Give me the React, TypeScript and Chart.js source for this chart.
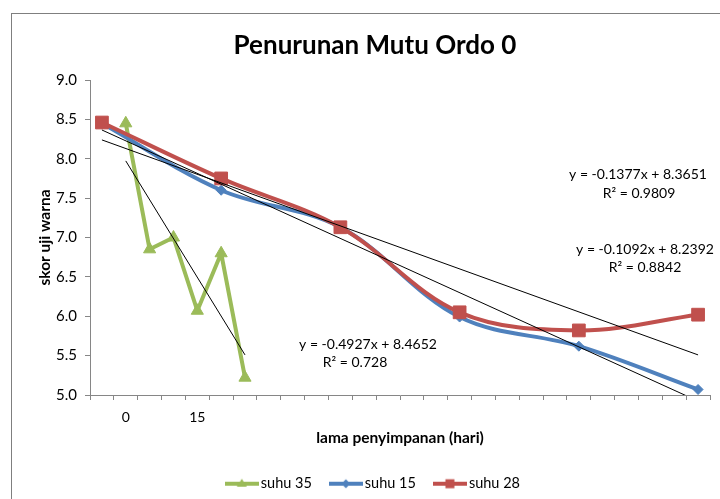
import React, { useEffect, useRef } from 'react';
import { Chart, registerables } from 'chart.js';

Chart.register(...registerables);

// Category axis: 26 slots, only two carry a label
const categories = [
  '', '0', '', '', '15', '', '', '', '', '', '', '', '', '',
  '', '', '', '', '', '', '', '', '', '', '', '',
];

// suhu 35 sits on slots 1..6, suhu 15 / suhu 28 every fifth slot
const suhu35Slots = [1, 2, 3, 4, 5, 6];
const suhu35Values = [8.45, 6.85, 7.0, 6.07, 6.8, 5.22];

const suhu15Slots = [0, 5, 10, 15, 20, 25];
const suhu15Values = [8.45, 7.6, 7.13, 5.99, 5.62, 5.07];

const suhu28Slots = [0, 5, 10, 15, 20, 25];
const suhu28Values = [8.46, 7.75, 7.13, 6.05, 5.82, 6.02];

// Linear trendlines (y = slope * x + intercept), x measured in category slots
const trendSlopes = [-0.4927, -0.1377, -0.1092];
const trendIntercepts = [8.4652, 8.3651, 8.2392];
const trendR2 = ['0.728', '0.9809', '0.8842'];

const Y_MIN = 5.0;
const Y_MAX = 9.0;
const Y_STEP = 0.5;

const FONT = 'Lato, "Open Sans", sans-serif';
const GREEN = '#9BBB59';
const BLUE = '#4F81BD';
const RED = '#C0504D';
const AXIS = '#868686';

function toSlots(slots: number[], values: number[]): (number | null)[] {
  const out: (number | null)[] = categories.map(() => null);
  slots.forEach((s, i) => {
    out[s] = values[i];
  });
  return out;
}

function trendSeries(k: number, slots: number[]): (number | null)[] {
  const out: (number | null)[] = categories.map(() => null);
  const a = slots[0];
  const b = slots[slots.length - 1];
  out[a] = trendSlopes[k] * a + trendIntercepts[k];
  out[b] = trendSlopes[k] * b + trendIntercepts[k];
  return out;
}

function equationText(k: number): string {
  const slope = trendSlopes[k].toFixed(4);
  const icpt = trendIntercepts[k].toFixed(4);
  return `y = ${slope}x + ${icpt}`;
}

// Legend symbol: short thick line with the series marker in the middle
function legendSymbol(color: string, marker: 'triangle' | 'diamond' | 'square'): HTMLCanvasElement {
  const c = document.createElement('canvas');
  c.width = 34;
  c.height = 14;
  const ctx = c.getContext('2d')!;
  ctx.strokeStyle = color;
  ctx.fillStyle = color;
  ctx.lineWidth = 4;
  ctx.beginPath();
  ctx.moveTo(0, 7);
  ctx.lineTo(34, 7);
  ctx.stroke();
  ctx.beginPath();
  if (marker === 'triangle') {
    ctx.moveTo(17, 2);
    ctx.lineTo(22, 10);
    ctx.lineTo(12, 10);
  } else if (marker === 'diamond') {
    ctx.moveTo(17, 2.5);
    ctx.lineTo(21.5, 7);
    ctx.lineTo(17, 11.5);
    ctx.lineTo(12.5, 7);
  } else {
    ctx.rect(12.5, 2.5, 9, 9);
  }
  ctx.closePath();
  ctx.fill();
  return c;
}

const chartFrame = {
  id: 'chartFrame',
  beforeDraw(chart: Chart) {
    const { ctx, width, height } = chart;
    ctx.save();
    ctx.fillStyle = '#ffffff';
    ctx.fillRect(0, 0, width, height);
    ctx.strokeStyle = '#7f7f7f';
    ctx.lineWidth = 1;
    ctx.strokeRect(11.5, 13.5, width + 10, height + 10);
    ctx.restore();
  },
};

// Trendline equations and R² values
const trendLabels = {
  id: 'trendLabels',
  afterDatasetsDraw(chart: Chart) {
    const { ctx } = chart;
    const spots = [
      { eq: [368, 344], r2: [355, 362] },
      { eq: [638, 174], r2: [639, 193] },
      { eq: [645, 249], r2: [645, 267] },
    ];
    ctx.save();
    ctx.fillStyle = '#000000';
    ctx.font = `14px ${FONT}`;
    ctx.textAlign = 'center';
    ctx.textBaseline = 'middle';
    spots.forEach((s, k) => {
      ctx.fillText(equationText(k), s.eq[0], s.eq[1]);
      ctx.fillText(`R² = ${trendR2[k]}`, s.r2[0], s.r2[1]);
    });
    ctx.restore();
  },
};

export default function App() {
  const canvasRef = useRef<HTMLCanvasElement | null>(null);

  useEffect(() => {
    const canvas = canvasRef.current;
    if (!canvas) return;

    const symbols = [
      legendSymbol(GREEN, 'triangle'),
      legendSymbol(BLUE, 'diamond'),
      legendSymbol(RED, 'square'),
    ];

    const trendBase = {
      borderColor: '#000000',
      borderWidth: 1,
      pointRadius: 0,
      spanGaps: true,
      tension: 0,
      clip: 0,
      order: 0,
    };

    const chart = new Chart(canvas, {
      type: 'line',
      data: {
        labels: categories,
        datasets: [
          {
            label: 'suhu 35',
            data: toSlots(suhu35Slots, suhu35Values),
            borderColor: GREEN,
            backgroundColor: GREEN,
            borderWidth: 4,
            pointStyle: 'triangle',
            pointRadius: 7,
            pointBorderWidth: 1,
            pointBorderColor: GREEN,
            pointBackgroundColor: GREEN,
            spanGaps: true,
            tension: 0,
            borderJoinStyle: 'round',
            order: 3,
          },
          {
            label: 'suhu 15',
            data: toSlots(suhu15Slots, suhu15Values),
            borderColor: BLUE,
            backgroundColor: BLUE,
            borderWidth: 4,
            pointStyle: 'rectRot',
            pointRadius: 5,
            pointBorderWidth: 1,
            pointBorderColor: BLUE,
            pointBackgroundColor: BLUE,
            spanGaps: true,
            tension: 0.35,
            borderJoinStyle: 'round',
            order: 2,
          },
          {
            label: 'suhu 28',
            data: toSlots(suhu28Slots, suhu28Values),
            borderColor: RED,
            backgroundColor: RED,
            borderWidth: 4,
            pointStyle: 'rect',
            pointRadius: 9,
            pointBorderWidth: 1,
            pointBorderColor: RED,
            pointBackgroundColor: RED,
            spanGaps: true,
            tension: 0.35,
            borderJoinStyle: 'round',
            order: 1,
          },
          { ...trendBase, label: 'trend suhu 35', data: trendSeries(0, suhu35Slots) },
          { ...trendBase, label: 'trend suhu 15', data: trendSeries(1, suhu15Slots) },
          { ...trendBase, label: 'trend suhu 28', data: trendSeries(2, suhu28Slots) },
        ],
      },
      options: {
        responsive: false,
        animation: false,
        events: [],
        devicePixelRatio: 1,
        layout: { padding: { left: 32, right: 2, top: 0, bottom: -2 } },
        plugins: {
          title: {
            display: true,
            text: 'Penurunan Mutu Ordo 0',
            color: '#000000',
            font: { family: FONT, size: 26, weight: 'bold' },
            padding: { top: 30.4, bottom: 18.4 },
          },
          legend: {
            position: 'bottom',
            labels: {
              usePointStyle: true,
              pointStyleWidth: 23.5,
              padding: 22.25,
              color: '#000000',
              font: { family: FONT, size: 14.5 },
              filter: (item: any) => item.datasetIndex < 3,
              sort: (a: any, b: any) => a.datasetIndex - b.datasetIndex,
              generateLabels: (c: Chart) => {
                const items = (Chart.defaults.plugins.legend.labels as any).generateLabels(c);
                items.forEach((it: any) => {
                  if (it.datasetIndex < 3) it.pointStyle = symbols[it.datasetIndex];
                });
                return items;
              },
            },
          },
          tooltip: { enabled: false },
        },
        scales: {
          x: {
            type: 'category',
            offset: true,
            afterFit: (s: any) => {
              s.height = 59.25;
            },
            grid: {
              display: true,
              offset: true,
              drawOnChartArea: false,
              drawTicks: true,
              tickLength: 5,
              color: AXIS,
            },
            border: { display: true, color: AXIS, width: 1 },
            ticks: {
              autoSkip: false,
              maxRotation: 0,
              padding: 9,
              color: '#000000',
              font: { family: FONT, size: 14 },
            },
            title: {
              display: true,
              text: 'lama penyimpanan (hari)',
              color: '#000000',
              font: { family: FONT, size: 15.5, weight: 'bold' },
              padding: { top: 0, bottom: 6.95 },
            },
          },
          y: {
            type: 'linear',
            min: Y_MIN,
            max: Y_MAX,
            afterFit: (s: any) => {
              s.width = 58;
            },
            grid: {
              display: true,
              drawOnChartArea: false,
              drawTicks: true,
              tickLength: 5,
              color: AXIS,
            },
            border: { display: true, color: AXIS, width: 1 },
            ticks: {
              stepSize: Y_STEP,
              padding: 8,
              color: '#000000',
              font: { family: FONT, size: 15 },
              callback: (v: any) => Number(v).toFixed(1),
            },
            title: {
              display: true,
              text: 'skor uji warna',
              color: '#000000',
              font: { family: FONT, size: 15.5, weight: 'bold' },
              padding: { top: 3.7, bottom: 0 },
            },
          },
        },
      },
      plugins: [chartFrame, trendLabels],
    });

    return () => chart.destroy();
  }, []);

  return (
    <div style={{ position: 'absolute', left: 0, top: 0, width: 720, height: 499 }}>
      <canvas ref={canvasRef} width={720} height={499} />
    </div>
  );
}
